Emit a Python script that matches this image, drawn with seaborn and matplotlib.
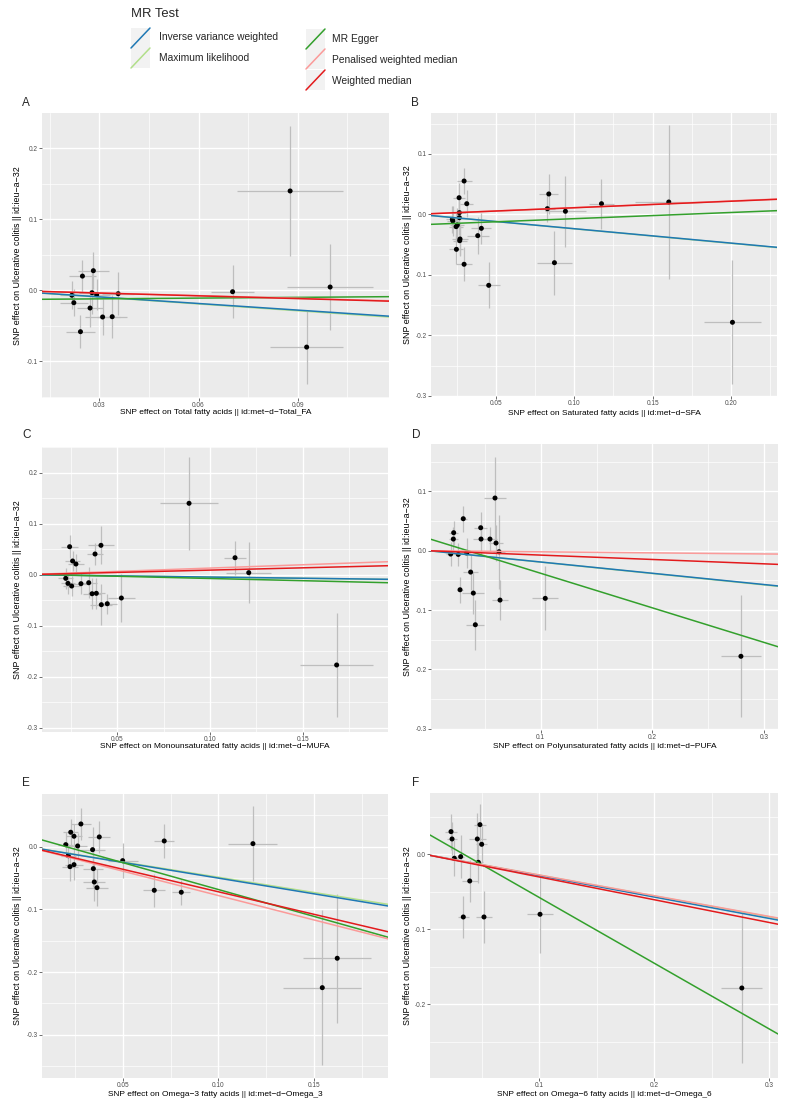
import numpy as np
import pandas as pd
import matplotlib
matplotlib.use("Agg")
import matplotlib.pyplot as plt
import seaborn as sns
from matplotlib.ticker import MultipleLocator, AutoMinorLocator, FormatStrFormatter
from matplotlib.patches import Rectangle
from matplotlib.lines import Line2D

sns.set_style("darkgrid", rc={"axes.facecolor": "#EBEBEB", "grid.color": "white"})
plt.rcParams["font.family"] = ["Liberation Sans", "DejaVu Sans"]
plt.rcParams["axes.unicode_minus"] = True

# ---------------- data ----------------
methods = ["Inverse variance weighted", "Maximum likelihood", "MR Egger",
           "Penalised weighted median", "Weighted median"]
method_colors = ["#1f78b4", "#b2df8a", "#33a02c", "#fb9a99", "#e31a1c"]

y_title = "SNP effect on Ulcerative colitis || id:ieu\u2212a\u221232"

# Panel A: Total fatty acids
a_bx = [0.0282, 0.0249, 0.0217, 0.0278, 0.0292, 0.0357, 0.0223, 0.0272, 0.0310, 0.0339, 0.0243, 0.0703, 0.0877, 0.0998, 0.0927]
a_by = [0.0276, 0.0200, -0.0070, -0.0034, -0.0062, -0.0048, -0.0175, -0.0250, -0.0376, -0.0372, -0.0583, -0.0020, 0.1399, 0.0046, -0.0800]
a_sx = [0.0047, 0.0041, 0.0035, 0.0040, 0.0040, 0.0048, 0.0043, 0.0040, 0.0052, 0.0045, 0.0043, 0.0064, 0.0160, 0.0130, 0.0110]
a_sy = [0.026, 0.023, 0.020, 0.030, 0.022, 0.030, 0.019, 0.026, 0.025, 0.030, 0.023, 0.037, 0.092, 0.060, 0.052]
# slopes: IVW, ML, Egger, PWM, WM ; Egger intercept
a_slope = [-0.31, -0.32, 0.035, -0.125, -0.13]
a_egger_int = -0.0131

# Panel B: Saturated fatty acids
b_bx = [0.0298, 0.0266, 0.0315, 0.0268, 0.0268, 0.0223, 0.0226, 0.0255, 0.0247, 0.0272, 0.0270, 0.0249, 0.0298, 0.0408, 0.0385, 0.0455, 0.0838, 0.0829, 0.0944, 0.1174, 0.1603, 0.0874, 0.2009]
b_by = [0.0550, 0.0274, 0.0175, 0.0027, -0.0056, -0.0083, -0.0110, -0.0177, -0.0204, -0.0408, -0.0436, -0.0579, -0.0826, -0.0232, -0.0353, -0.1174, 0.0336, 0.0093, 0.0050, 0.0175, 0.0203, -0.0800, -0.1785]
b_sx = [0.0048, 0.0040, 0.0040, 0.0040, 0.0045, 0.0040, 0.0040, 0.0045, 0.0045, 0.0050, 0.0045, 0.0045, 0.0053, 0.0064, 0.0070, 0.0070, 0.0060, 0.0050, 0.0130, 0.0077, 0.0215, 0.0110, 0.0180]
b_sy = [0.021, 0.025, 0.022, 0.025, 0.028, 0.022, 0.025, 0.028, 0.025, 0.027, 0.026, 0.025, 0.028, 0.026, 0.030, 0.038, 0.033, 0.022, 0.059, 0.041, 0.128, 0.053, 0.1025]
b_slope = [-0.238, -0.24, 0.1025, 0.11, 0.108]
b_egger_int = -0.0175

# Panel C: Monounsaturated fatty acids
c_bx = [0.0243, 0.0412, 0.0380, 0.0259, 0.0277, 0.0222, 0.0234, 0.0254, 0.0304, 0.0346, 0.0364, 0.0387, 0.0414, 0.0446, 0.0522, 0.0887, 0.1135, 0.1209, 0.1683]
c_by = [0.0549, 0.0576, 0.0406, 0.0269, 0.0210, -0.0071, -0.0170, -0.0222, -0.0176, -0.0157, -0.0373, -0.0365, -0.0588, -0.0569, -0.0457, 0.1400, 0.0333, 0.0040, -0.1770]
c_sx = [0.0045, 0.0070, 0.0045, 0.0040, 0.0045, 0.0040, 0.0040, 0.0045, 0.0045, 0.0045, 0.0050, 0.0045, 0.0060, 0.0050, 0.0074, 0.0157, 0.0060, 0.0120, 0.0198]
c_sy = [0.023, 0.0375, 0.022, 0.020, 0.020, 0.020, 0.020, 0.020, 0.020, 0.030, 0.030, 0.030, 0.040, 0.020, 0.048, 0.091, 0.033, 0.060, 0.1023]
c_slope = [-0.046, -0.047, -0.0868, 0.13, 0.09]
c_egger_int = 0.0013

# Panel D: Polyunsaturated fatty acids
d_bx = [0.0591, 0.0307, 0.0221, 0.0218, 0.0463, 0.0466, 0.0546, 0.0600, 0.0627, 0.0194, 0.0262, 0.0337, 0.0373, 0.0278, 0.0397, 0.0636, 0.0415, 0.1041, 0.2793]
d_by = [0.0889, 0.0540, 0.0304, 0.0197, 0.0388, 0.0197, 0.0197, 0.0130, -0.0017, -0.0056, -0.0062, -0.0039, -0.0360, -0.0658, -0.0714, -0.0832, -0.1248, -0.0803, -0.1780]
d_sx = [0.0100, 0.0030, 0.0040, 0.0040, 0.0060, 0.0075, 0.0060, 0.0060, 0.0050, 0.0040, 0.0030, 0.0030, 0.0067, 0.0030, 0.0100, 0.0075, 0.0080, 0.0115, 0.0180]
d_sy = [0.070, 0.022, 0.020, 0.020, 0.027, 0.025, 0.020, 0.030, 0.062, 0.020, 0.020, 0.025, 0.030, 0.022, 0.035, 0.034, 0.042, 0.054, 0.1026]
d_slope = [-0.19, -0.192, -0.583, -0.018, -0.0736]
d_egger_int = 0.0203

# Panel E: Omega-3 fatty acids
e_bx = [0.0282, 0.0229, 0.0246, 0.0378, 0.0203, 0.0265, 0.0343, 0.0216, 0.0246, 0.0225, 0.0500, 0.0347, 0.0352, 0.0366, 0.0717, 0.0665, 0.0806, 0.1180, 0.1620, 0.1542]
e_by = [0.0362, 0.0230, 0.0166, 0.0155, 0.0032, 0.0011, -0.0048, -0.0144, -0.0287, -0.0319, -0.0223, -0.0351, -0.0563, -0.0654, 0.0091, -0.0696, -0.0727, 0.0048, -0.1780, -0.2249]
e_sx = [0.0052, 0.0039, 0.0040, 0.0057, 0.0040, 0.0048, 0.0065, 0.0040, 0.0048, 0.0040, 0.0078, 0.0052, 0.0057, 0.0057, 0.0052, 0.0058, 0.0048, 0.0128, 0.0178, 0.0204]
e_sy = [0.025, 0.021, 0.020, 0.025, 0.020, 0.020, 0.036, 0.020, 0.025, 0.023, 0.028, 0.030, 0.030, 0.029, 0.027, 0.026, 0.020, 0.060, 0.103, 0.124]
e_slope = [-0.502, -0.488, -0.859, -0.78, -0.72]
e_egger_int = 0.0175

# Panel F: Omega-6 fatty acids
f_bx = [0.0231, 0.0240, 0.0260, 0.0315, 0.0394, 0.0338, 0.0483, 0.0460, 0.0498, 0.0469, 0.0518, 0.1006, 0.2763]
f_by = [0.0302, 0.0204, -0.0053, -0.0032, -0.0356, -0.0836, 0.0395, 0.0204, 0.0133, -0.0107, -0.0836, -0.0800, -0.1783]
f_sx = [0.0050, 0.0040, 0.0030, 0.0030, 0.0070, 0.0050, 0.0050, 0.0072, 0.0050, 0.0040, 0.0072, 0.0110, 0.0180]
f_sy = [0.024, 0.022, 0.024, 0.029, 0.028, 0.028, 0.027, 0.035, 0.025, 0.027, 0.035, 0.052, 0.100]
f_slope = [-0.285, -0.278, -0.8756, -0.276, -0.303]
f_egger_int = 0.0299

panels = [
    dict(letter="A", bx=a_bx, by=a_by, sx=a_sx, sy=a_sy, slope=a_slope, eint=a_egger_int,
         xlab="SNP effect on Total fatty acids || id:met\u2212d\u2212Total_FA",
         px=(42, 389, 113, 398), xlim=(0.01267, 0.1176), ylim=(-0.1517, 0.2497),
         xmaj=0.03, ymaj=0.1, xfmt="%.2f", yfmt="%.1f", xlab_y=413, ylab_x=18, let=(22, 103)),
    dict(letter="B", bx=b_bx, by=b_by, sx=b_sx, sy=b_sy, slope=b_slope, eint=b_egger_int,
         xlab="SNP effect on Saturated fatty acids || id:met\u2212d\u2212SFA",
         px=(431, 777, 113, 396), xlim=(0.0087, 0.2293), ylim=(-0.3003, 0.1674),
         xmaj=0.05, ymaj=0.1, xfmt="%.2f", yfmt="%.1f", xlab_y=414, ylab_x=408, let=(411, 103)),
    dict(letter="C", bx=c_bx, by=c_by, sx=c_sx, sy=c_sy, slope=c_slope, eint=c_egger_int,
         xlab="SNP effect on Monounsaturated fatty acids || id:met\u2212d\u2212MUFA",
         px=(42, 388, 447, 732), xlim=(0.0094, 0.196), ylim=(-0.3084, 0.2504),
         xmaj=0.05, ymaj=0.1, xfmt="%.2f", yfmt="%.1f", xlab_y=746, ylab_x=18, let=(22, 435)),
    dict(letter="D", bx=d_bx, by=d_by, sx=d_sx, sy=d_sy, slope=d_slope, eint=d_egger_int,
         xlab="SNP effect on Polyunsaturated fatty acids || id:met\u2212d\u2212PUFA",
         px=(431, 778, 444, 730), xlim=(0.0018, 0.3125), ylim=(-0.3023, 0.18),
         xmaj=0.1, ymaj=0.1, xfmt="%.1f", yfmt="%.1f", xlab_y=746, ylab_x=408, let=(412, 435)),
    dict(letter="E", bx=e_bx, by=e_by, sx=e_sx, sy=e_sy, slope=e_slope, eint=e_egger_int,
         xlab="SNP effect on Omega\u22123 fatty acids || id:met\u2212d\u2212Omega_3",
         px=(42, 388, 794, 1078), xlim=(0.0079, 0.1885), ylim=(-0.369, 0.084),
         xmaj=0.05, ymaj=0.1, xfmt="%.2f", yfmt="%.1f", xlab_y=1094, ylab_x=18, let=(22, 783)),
    dict(letter="F", bx=f_bx, by=f_by, sx=f_sx, sy=f_sy, slope=f_slope, eint=f_egger_int,
         xlab="SNP effect on Omega\u22126 fatty acids || id:met\u2212d\u2212Omega_6",
         px=(430, 778, 793, 1078), xlim=(0.0048, 0.3078), ylim=(-0.2983, 0.0817),
         xmaj=0.1, ymaj=0.1, xfmt="%.1f", yfmt="%.1f", xlab_y=1094, ylab_x=408, let=(412, 783)),
]

W, H = 790, 1107
fig = plt.figure(figsize=(W / 100, H / 100), dpi=100)
fig.patch.set_facecolor("white")

# draw order of the fitted lines (ML, IVW, Egger, PWM, WM)
draw_order = [1, 0, 2, 3, 4]

for p in panels:
    l, r, t, b = p["px"]
    ax = fig.add_axes([l / W, 1 - b / H, (r - l) / W, (b - t) / H])
    ax.set_facecolor("#EBEBEB")
    for s in ax.spines.values():
        s.set_visible(False)
    df = pd.DataFrame({"bx": p["bx"], "by": p["by"], "sx": p["sx"], "sy": p["sy"]})
    ax.errorbar(df["bx"], df["by"], yerr=df["sy"], fmt="none", ecolor="#BEBEBE",
                elinewidth=0.9, capsize=0, zorder=2)
    ax.errorbar(df["bx"], df["by"], xerr=df["sx"], fmt="none", ecolor="#BEBEBE",
                elinewidth=0.9, capsize=0, zorder=2)
    sns.scatterplot(data=df, x="bx", y="by", color="black", s=13, edgecolor="none",
                    linewidth=0, ax=ax, zorder=3)
    for k in draw_order:
        intercept = p["eint"] if k == 2 else 0.0
        ax.axline((0.0, intercept), slope=p["slope"][k], color=method_colors[k],
                  lw=1.1, zorder=4)
    ax.set_xlim(*p["xlim"])
    ax.set_ylim(*p["ylim"])
    ax.xaxis.set_major_locator(MultipleLocator(p["xmaj"]))
    ax.yaxis.set_major_locator(MultipleLocator(p["ymaj"]))
    ax.xaxis.set_minor_locator(AutoMinorLocator(2))
    ax.yaxis.set_minor_locator(AutoMinorLocator(2))
    ax.xaxis.set_major_formatter(FormatStrFormatter(p["xfmt"]))
    ax.yaxis.set_major_formatter(FormatStrFormatter(p["yfmt"]))
    ax.grid(which="major", color="white", lw=1.0, zorder=0)
    ax.grid(which="minor", color="white", lw=0.5, zorder=0)
    ax.set_axisbelow(True)
    ax.tick_params(which="major", length=2, width=0.5, color="#333333", pad=1.2,
                   labelsize=4.7, labelcolor="#4D4D4D", bottom=True, left=True)
    ax.tick_params(which="minor", length=0)
    ax.set_xlabel(p["xlab"], fontsize=6.0, color="black")
    ax.set_ylabel(y_title, fontsize=6.4, color="black")
    ax.xaxis.set_label_coords(0.5, -(p["xlab_y"] - b) / (b - t))
    ax.xaxis.label.set_va("center")
    ax.yaxis.set_label_coords((p["ylab_x"] - l) / (r - l), 0.5)
    ax.yaxis.label.set_va("center")
    fig.text(p["let"][0] / W, 1 - p["let"][1] / H, p["letter"], fontsize=8.5,
             ha="left", va="center")

# ---------------- legend ----------------
ov = fig.add_axes([0, 0, 1, 1], zorder=-1)
ov.set_xlim(0, W)
ov.set_ylim(H, 0)
ov.axis("off")
ov.text(131, 14, "MR Test", fontsize=9.4, ha="left", va="center")
key_pos = [(131, 28, 159, 37), (131, 48, 159, 58),
           (306, 29, 332, 39), (306, 49, 332, 60), (306, 70, 332, 81)]
for (kx, ky, tx, ty), name, col in zip(key_pos, methods, method_colors):
    ov.add_patch(Rectangle((kx, ky), 19, 20, facecolor="#F2F2F2", edgecolor="none"))
    ov.add_line(Line2D([kx, kx + 19], [ky + 20, ky], color=col, lw=1.1))
    ov.text(tx, ty, name, fontsize=7.4, ha="left", va="center")

fig.savefig("out.png", dpi=100, facecolor="white")
